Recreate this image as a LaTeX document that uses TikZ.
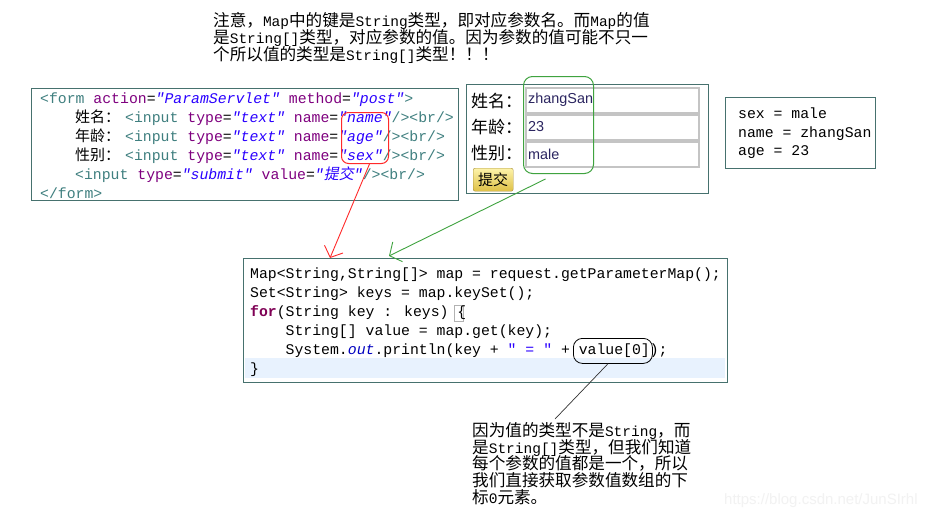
\documentclass[tikz,border=0pt]{standalone}
\usepackage{fontspec}
\usetikzlibrary{arrows.meta,calc}
\newfontfamily\cjk{Noto Sans CJK SC}
\newfontfamily\cjki[FakeSlant=0.2]{Noto Sans CJK SC}
\newfontfamily\cf{Liberation Mono}
\newfontfamily\ar{Liberation Sans}
\definecolor{boxc}{HTML}{46716E}
\definecolor{tagc}{HTML}{3F7F7F}
\definecolor{attc}{HTML}{7F007F}
\definecolor{valc}{HTML}{2A00FF}
\definecolor{kwc}{HTML}{7F0055}
\definecolor{fldc}{HTML}{0000C0}
\definecolor{redm}{HTML}{FF2A2A}
\definecolor{grnm}{HTML}{3FA33F}
\definecolor{inpc}{HTML}{2B2560}
\definecolor{hlc}{HTML}{E8F2FE}
\definecolor{fldb}{HTML}{C4C4C4}
\definecolor{btnb}{HTML}{A89038}
\newcommand\tg[1]{\textcolor{tagc}{#1}}
\newcommand\atr[1]{\textcolor{attc}{#1}}
\newcommand\vl[1]{\textcolor{valc}{\itshape #1}}
\newcommand\lat[1]{{\cf\fontsize{14.5}{17}\selectfont #1}}
\begin{document}
\begin{tikzpicture}[x=1pt,y=-1pt,
  panel/.style={draw=boxc, line width=1.3pt, anchor=north west, inner sep=0pt},
  code/.style={anchor=base west, inner sep=0pt, font=\cf\fontsize{14.8}{19}\selectfont},
  note/.style={anchor=base west, inner sep=0pt, font=\cjk\fontsize{16.6}{17}\selectfont},
  lbl/.style={anchor=west, inner sep=0pt, font=\cjk\fontsize{17}{17}\selectfont},
  field/.style={draw=fldb, line width=1.5pt, fill=white, anchor=north west, minimum width=173pt, minimum height=25pt, inner sep=0pt},
  fval/.style={anchor=west, inner sep=0pt, text=inpc, font=\ar\fontsize{14.4}{16}\selectfont},
  outl/.style={anchor=base west, inner sep=0pt, font=\cf\fontsize{14.8}{19}\selectfont},
  ringbox/.style={rounded corners=7pt, line width=1pt, anchor=north west, inner sep=0pt}
]
\path[use as bounding box, fill=white] (0,0) rectangle (935,520);

% top note
\node[note] (t1) at (213,26) {注意，\lat{Map}中的键是\lat{String}类型，即对应参数名。而\lat{Map}的值};
\node[note] (t2) at (213,43) {是\lat{String[]}类型，对应参数的值。因为参数的值可能不只一};
\node[note] (t3) at (213,60) {个所以值的类型是\lat{String[]}类型！！！};

% form code box
\node[panel, minimum width=427pt, minimum height=112pt] (formbox) at (31,88) {};
\node[code] (f1) at (40,103) {\tg{<form} \atr{action}=\vl{"ParamServlet"} \atr{method}=\vl{"post"}\tg{>}};
\node[code, font=\cjk\fontsize{15}{19}\selectfont] (l1) at (75,122) {姓名：};
\node[code] (f2) at (125,122) {\tg{<input} \atr{type}=\vl{"text"} \atr{name}=\vl{"name"}\tg{/><br/>}};
\node[code, font=\cjk\fontsize{15}{19}\selectfont] (l2) at (75,141) {年龄：};
\node[code] (f3) at (125,141) {\tg{<input} \atr{type}=\vl{"text"} \atr{name}=\vl{"age"}\tg{/><br/>}};
\node[code, font=\cjk\fontsize{15}{19}\selectfont] (l3) at (75,160) {性别：};
\node[code] (f4) at (125,160) {\tg{<input} \atr{type}=\vl{"text"} \atr{name}=\vl{"sex"}\tg{/><br/>}};
\node[code] (f5) at (75,179) {\tg{<input} \atr{type}=\vl{"submit"} \atr{value}=\vl{"}{\cjki\fontsize{15}{19}\selectfont\textcolor{valc}{提交}}\vl{"}\tg{/><br/>}};
\node[code] (f6) at (40,198) {\tg{</form>}};
\node[ringbox, draw=redm, minimum width=47pt, minimum height=51pt] (redbox) at (341,112) {};

% browser form
\node[panel, minimum width=242pt, minimum height=109pt] (browser) at (466,84) {};
\node[lbl] (b1) at (471,101) {姓名：};
\node[lbl] (b2) at (471,127) {年龄：};
\node[lbl] (b3) at (471,153) {性别：};
\node[field] (in1) at (525,87) {};
\node[field] (in2) at (525,114) {};
\node[field] (in3) at (525,141) {};
\node[fval] (v1) at (528,100) {zhangSan};
\node[fval] (v2) at (528,127) {23};
\node[fval] (v3) at (528,154) {male};
\node[anchor=north west, minimum width=40pt, minimum height=23pt, inner sep=0pt,
      rounded corners=2pt, draw=btnb, top color={rgb,255:red,253;green,243;blue,170},
      bottom color={rgb,255:red,222;green,192;blue,70},
      font=\cjk\fontsize{15}{15}\selectfont] (submit) at (473,168) {提交};
\node[ringbox, draw=grnm, rounded corners=9pt, minimum width=70pt, minimum height=97pt] (greenbox) at (523,76) {};

% output box
\node[panel, minimum width=150pt, minimum height=71pt] (outbox) at (725,97) {};
\node[outl] (o1) at (738,118.5) {sex = male};
\node[outl] (o2) at (738,137.5) {name = zhangSan};
\node[outl] (o3) at (738,155.5) {age = 23};

% java code box
\node[panel, minimum width=484pt, minimum height=124pt] (javabox) at (243,258) {};
\fill[hlc] (245,358) rectangle (725,378);
\draw[black!30, line width=0.8pt] (454,305) rectangle (463,321);
\node[code] (j1) at (250,278) {Map<String,String[]> map = request.getParameterMap();};
\node[code] (j2) at (250,297) {Set<String> keys = map.keySet();};
\node[code] (j3) at (250,316) {\textcolor{kwc}{\bfseries for}(String key : keys) \{};
\node[code] (j4) at (285.5,335) {String[] value = map.get(key);};
\node[code] (j5) at (285.5,354) {System.\textcolor{fldc}{\itshape out}.println(key + \textcolor{valc}{" = "} + value[0]);};
\node[code] (j6) at (250,373) {\}};
\node[ringbox, draw=black, rounded corners=9pt, line width=0.8pt, minimum width=79pt, minimum height=25pt] (valbox) at (573,338) {};

% annotation
\node[note] (a1) at (472,436) {因为值的类型不是\lat{String}，而};
\node[note] (a2) at (472,453) {是\lat{String[]}类型，但我们知道};
\node[note] (a3) at (472,469.5) {每个参数的值都是一个，所以};
\node[note] (a4) at (472,486) {我们直接获取参数值数组的下};
\node[note] (a5) at (472,503) {标\lat{0}元素。};
\coordinate (callend) at (555,419);

% connectors
\draw[redm, line width=0.9pt, -{Straight Barb[length=9pt,width=20pt]}]
  ($(redbox.south)+(4.5,0)$) -- ($(javabox.north west)+(87,0)$);
\draw[grnm, line width=0.9pt, -{Straight Barb[length=9pt,width=22pt]}]
  ($(greenbox.south)+(-13,5)$) -- ($(javabox.north west)+(146,-2)$);
\draw[black!80, line width=0.7pt] ($(valbox.south)+(-5,0)$) -- (callend);

% watermark
\node[anchor=west, inner sep=0pt, text=black!5, font=\ar\fontsize{15}{15}\selectfont] (wm) at (724,501) {https://blog.csdn.net/JunSIrhl};
\end{tikzpicture}
\end{document}
